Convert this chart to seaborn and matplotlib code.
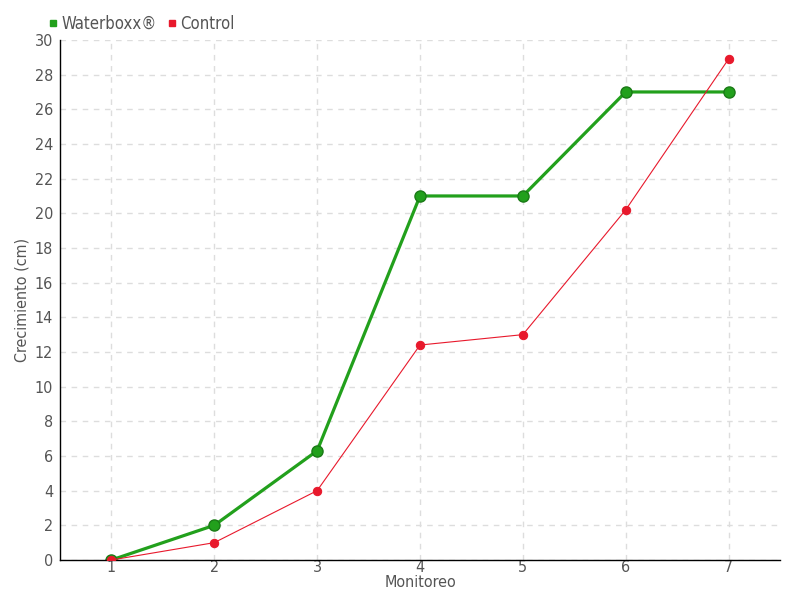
import pandas as pd
import matplotlib
matplotlib.use('Agg')
import matplotlib.pyplot as plt
from matplotlib.lines import Line2D
import seaborn as sns

sns.set_style('white')
plt.rcParams['font.family'] = ['DejaVu Sans']
plt.rcParams['font.stretch'] = 'condensed'

monitoreo = [1, 2, 3, 4, 5, 6, 7]
waterboxx = [0, 2, 6.3, 21, 21, 27, 27]
control = [0, 1, 4, 12.4, 13, 20.2, 28.9]

df = pd.DataFrame({
    'Monitoreo': monitoreo * 2,
    'Crecimiento': waterboxx + control,
    'Serie': ['Waterboxx®'] * 7 + ['Control'] * 7,
})

green = '#22a01c'
red = '#e8192c'
text_col = '#555555'

fig = plt.figure(figsize=(8, 6), dpi=100)
ax = fig.add_axes([0.075, 0.0667, 0.9, 0.8667])

sns.lineplot(data=df[df['Serie'] == 'Waterboxx®'], x='Monitoreo', y='Crecimiento',
             color=green, lw=2.3, marker='o', markersize=8, markeredgecolor='#1a7a16',
             markerfacecolor=green, markeredgewidth=1, ax=ax, legend=False)
sns.lineplot(data=df[df['Serie'] == 'Control'], x='Monitoreo', y='Crecimiento',
             color=red, lw=0.8, marker='o', markersize=6, markeredgecolor=red,
             markerfacecolor=red, ax=ax, legend=False, zorder=3)

ax.set_xlim(0.5, 7.5)
ax.set_ylim(0, 30)
ax.set_xticks(monitoreo)
ax.set_yticks(range(0, 31, 2))
ax.grid(True, linestyle=(0, (4, 4)), color='#dddddd', lw=1)
for s in ['top', 'right']:
    ax.spines[s].set_visible(False)
for s in ['left', 'bottom']:
    ax.spines[s].set_color('black')
    ax.spines[s].set_linewidth(1)
ax.tick_params(axis='y', direction='inout', length=6, color='black', labelsize=11.5,
               labelcolor=text_col, pad=2)
ax.tick_params(axis='x', direction='inout', length=4, color='#bbbbbb', labelsize=11.5,
               labelcolor=text_col, pad=-2)
ax.set_xlabel('Monitoreo', fontsize=11.5, color=text_col, labelpad=0)
ax.set_ylabel('Crecimiento (cm)', fontsize=11.5, color=text_col, labelpad=4)

handles = [Line2D([], [], ls='', marker='s', markersize=5, color=green),
           Line2D([], [], ls='', marker='s', markersize=5, color=red)]
leg = ax.legend(handles, ['Waterboxx®', 'Control'], loc='lower left',
                bbox_to_anchor=(-0.03, 0.995), ncol=2, frameon=False, fontsize=12,
                handlelength=0.6, handletextpad=0.2, columnspacing=0.6,
                borderaxespad=0.2)
for t in leg.get_texts():
    t.set_color(text_col)

fig.savefig('out.png', dpi=100)
